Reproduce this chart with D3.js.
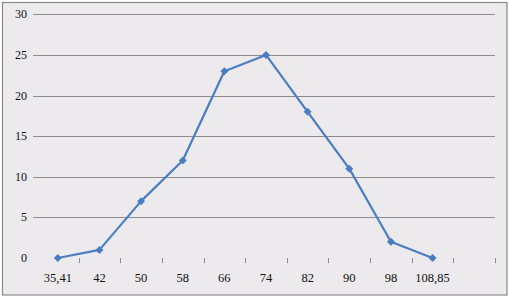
<!DOCTYPE html>
<html><head><meta charset="utf-8">
<script src="https://cdn.jsdelivr.net/npm/d3@7"></script>
<style>body{margin:0;background:#fff}svg{display:block}</style>
</head><body>
<script>
const categories = ["35,41","42","50","58","66","74","82","90","98","108,85",""];
const values = [0,1,7,12,23,25,18,11,2,0];
const yTicks = [0,5,10,15,20,25,30];

(function(){
const W = 509, H = 297;
const svg = d3.select("body").append("svg").attr("width", W).attr("height", H);
svg.append("rect").attr("x",2.5).attr("y",2.5).attr("width",504.5).attr("height",292.5)
  .attr("fill","#ECEAED").attr("stroke","#8A8A8A").attr("stroke-width",1.2);

const pLeft = 37, pRight = 495, pTop = 14.3, pBottom = 258;
const x = d3.scaleBand().domain(categories.map((c,i)=>i)).range([pLeft,pRight]).padding(0);
const y = d3.scaleLinear().domain([0,30]).range([pBottom,pTop]);

// gridlines
svg.append("g").selectAll("line").data(yTicks.filter(t=>t>0)).join("line")
  .attr("x1",33).attr("x2",pRight).attr("y1",d=>Math.round(y(d))+0.5).attr("y2",d=>Math.round(y(d))+0.5)
  .attr("stroke","#8C8C8C").attr("stroke-width",1);

// y labels
svg.append("g").selectAll("text").data(yTicks).join("text")
  .attr("x",27).attr("y",d=>y(d)+4).attr("text-anchor","end")
  .attr("font-family","Liberation Serif, serif").attr("font-size",12).attr("fill","#111")
  .text(d=>d);

// x ticks at category boundaries
const bounds = d3.range(1, categories.length+1).map(i => pLeft + i*x.bandwidth());
svg.append("g").selectAll("line").data(bounds).join("line")
  .attr("x1",d=>Math.round(d)+0.5).attr("x2",d=>Math.round(d)+0.5).attr("y1",pBottom).attr("y2",pBottom+5)
  .attr("stroke","#8C8C8C").attr("stroke-width",1);

// x labels
svg.append("g").selectAll("text").data(categories).join("text")
  .attr("x",(d,i)=>x(i)+x.bandwidth()/2).attr("y",282).attr("text-anchor","middle")
  .attr("font-family","Liberation Serif, serif").attr("font-size",12.5).attr("fill","#111")
  .text(d=>d);

const cx = i => x(i)+x.bandwidth()/2;
const line = d3.line().x((d,i)=>cx(i)).y(d=>y(d));
svg.append("path").datum(values).attr("d",line).attr("fill","none")
  .attr("stroke","#4A7EC3").attr("stroke-width",2.2).attr("stroke-linejoin","round");

svg.append("g").selectAll("path").data(values).join("path")
  .attr("d", d3.symbol().type(d3.symbolSquare).size(32))
  .attr("transform",(d,i)=>`translate(${cx(i)},${y(d)}) rotate(45)`)
  .attr("fill","#4A7EC3");
})();
</script>
</body></html>
